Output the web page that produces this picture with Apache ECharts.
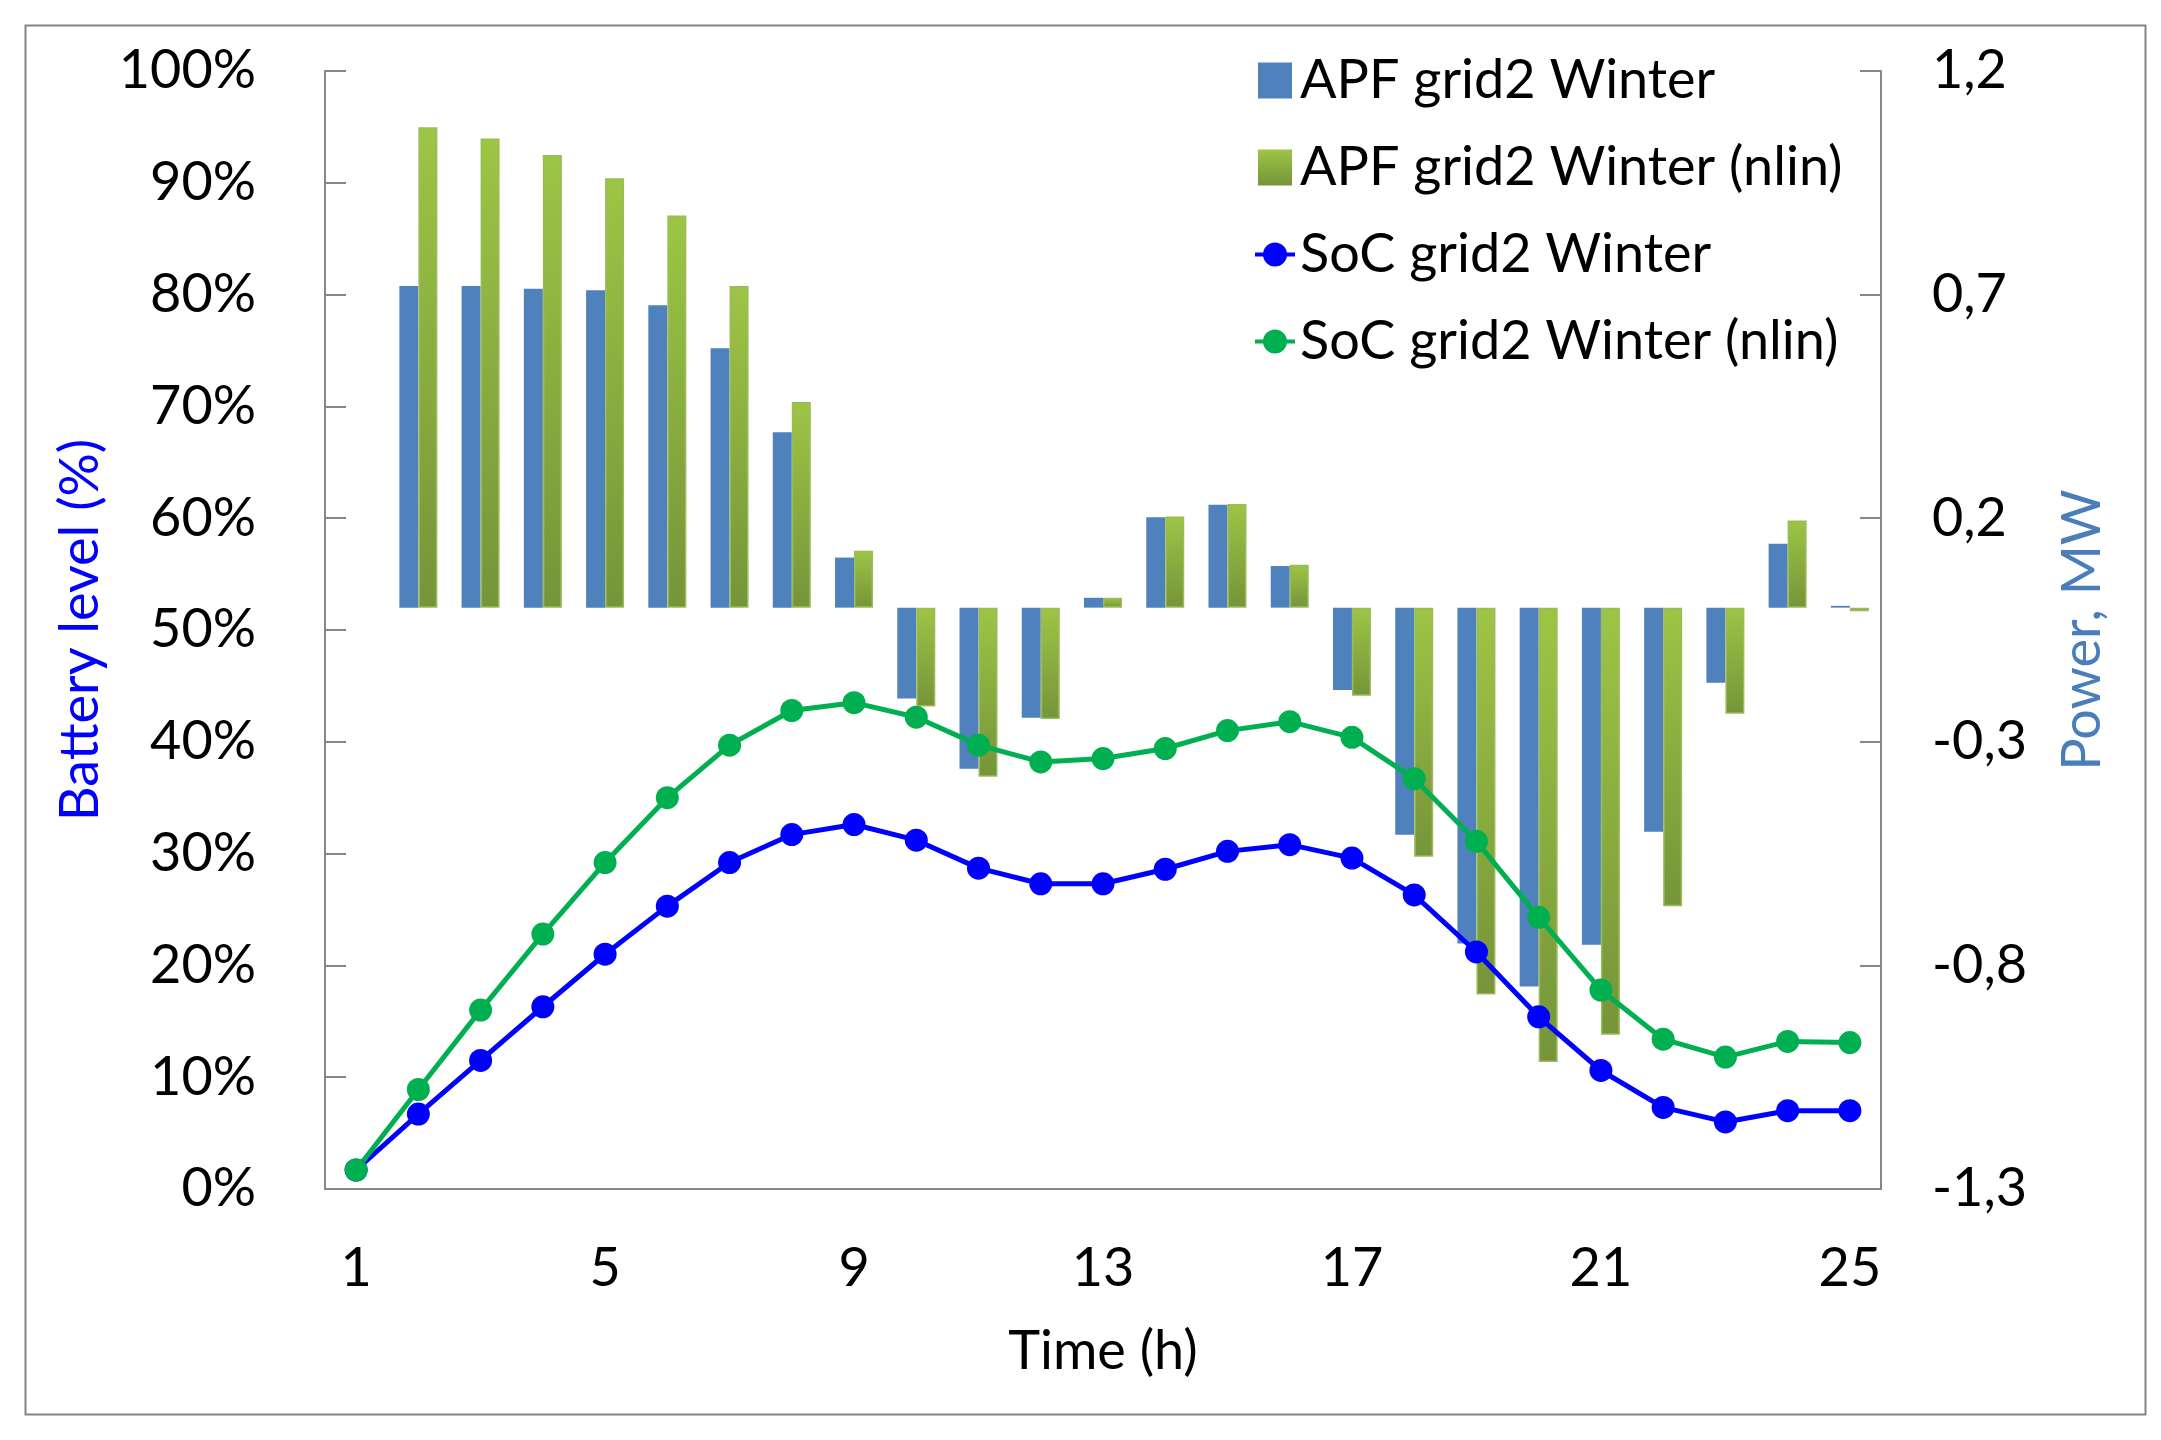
<!DOCTYPE html>
<html>
<head>
<meta charset="utf-8">
<script src="https://cdn.jsdelivr.net/npm/echarts@6/dist/echarts.min.js"></script>
<style>
html,body{margin:0;padding:0;background:#fff;}
#chart{width:2161px;height:1440px;}
</style>
</head>
<body>
<div id="chart"></div>
<script>
const hours = ['1','2','3','4','5','6','7','8','9','10','11','12','13','14','15','16','17','18','19','20','21','22','23','24','25'];
const apfWinter = ['-',0.719,0.719,0.713,0.710,0.676,0.580,0.392,0.112,-0.203,-0.360,-0.246,0.022,0.202,0.230,0.093,-0.184,-0.508,-0.751,-0.847,-0.754,-0.501,-0.168,0.143,0.004];
const apfWinterNlin = ['-',1.074,1.049,1.012,0.960,0.877,0.719,0.460,0.127,-0.221,-0.378,-0.249,0.022,0.204,0.232,0.096,-0.197,-0.557,-0.865,-1.016,-0.955,-0.668,-0.237,0.195,-0.008];
const socWinter = [1.7,6.7,11.5,16.3,21.0,25.3,29.2,31.7,32.6,31.2,28.7,27.3,27.3,28.6,30.2,30.8,29.6,26.3,21.2,15.4,10.6,7.3,6.0,7.0,7.0];
const socWinterNlin = [1.7,8.9,16.0,22.8,29.2,35.0,39.7,42.8,43.5,42.2,39.7,38.2,38.5,39.4,41.0,41.8,40.4,36.7,31.1,24.3,17.8,13.4,11.8,13.2,13.1];
const powerTicks = [-1.3,-0.8,-0.3,0.2,0.7,1.2];

const FONT = 'Lato';
const FS = 54;
const axisGray = '#868686';

const chart = echarts.init(document.getElementById('chart'), null, {renderer:'canvas'});
const greenGrad = new echarts.graphic.LinearGradient(0,0,0,1,[
  {offset:0,color:'#9DC545'},{offset:1,color:'#76943A'}
]);
// legend icons in a 40x36 box (tiny corner anchors fix the box size)
const anchors = ' M0,0 L0.01,0 L0,0.01 Z M40,36 L39.99,36 L40,35.99 Z';
const lineMarkerIcon = 'path://M0,16 L40,16 L40,20 L0,20 Z M8,18 A12,12 0 1,1 32,18 A12,12 0 1,1 8,18 Z' + anchors;
const squareIcon = 'path://M3,0 L37,0 L37,36 L3,36 Z' + anchors;

chart.setOption({
  backgroundColor:'#ffffff',
  animation:false,
  textStyle:{fontFamily:FONT},
  graphic:[{
    type:'rect', left:23, top:23,
    shape:{x:0,y:0,width:2120,height:1389},
    style:{fill:'none',stroke:axisGray,lineWidth:2}
  }],
  grid:{left:325,right:280,top:71,bottom:251,containLabel:false},
  legend:{
    orient:'vertical', left:1250, top:47,
    itemWidth:40, itemHeight:36, itemGap:30,
    textStyle:{fontFamily:FONT,fontSize:FS,color:'#000',lineHeight:57},
    data:[
      {name:'APF grid2 Winter', icon:squareIcon},
      {name:'APF grid2 Winter (nlin)', icon:squareIcon, itemStyle:{borderWidth:0}},
      {name:'SoC grid2 Winter', icon:lineMarkerIcon},
      {name:'SoC grid2 Winter (nlin)', icon:lineMarkerIcon}
    ]
  },
  xAxis:{
    type:'category', data:hours, boundaryGap:true,
    name:'Time (h)', nameLocation:'middle', nameGap:136,
    nameTextStyle:{fontFamily:FONT,fontSize:FS,color:'#000'},
    axisLine:{lineStyle:{color:axisGray,width:2}},
    axisTick:{inside:true,length:21,interval:3,lineStyle:{color:axisGray,width:2}},
    axisLabel:{interval:3,margin:53,fontFamily:FONT,fontSize:FS,color:'#000'},
    splitLine:{show:false}
  },
  yAxis:[{
    type:'value', min:0, max:100, interval:10, position:'left',
    name:'Battery level (%)', nameLocation:'middle', nameRotate:90, nameGap:201,
    nameTextStyle:{fontFamily:FONT,fontSize:FS,color:'#0000FF'},
    axisLine:{show:true,lineStyle:{color:axisGray,width:2}},
    axisTick:{show:true,inside:true,length:21,lineStyle:{color:axisGray,width:2}},
    axisLabel:{formatter:'{value}%',margin:69,fontFamily:FONT,fontSize:FS,color:'#000'},
    splitLine:{show:false}
  },{
    type:'value', min:-1.3, max:1.2, position:'right',
    name:'Power, MW', nameLocation:'middle', nameRotate:90, nameGap:175,
    nameTextStyle:{fontFamily:FONT,fontSize:FS,color:'#4A7EBB'},
    axisLine:{show:true,lineStyle:{color:axisGray,width:2}},
    axisTick:{show:true,inside:true,length:21,customValues:powerTicks,lineStyle:{color:axisGray,width:2}},
    axisLabel:{customValues:powerTicks,margin:51,fontFamily:FONT,fontSize:FS,color:'#000',
      formatter:function(v){return String(Math.round(v*10)/10).replace('.',',');}},
    splitLine:{show:false}
  }],
  series:[{
    name:'APF grid2 Winter', type:'bar', yAxisIndex:1, data:apfWinter,
    barWidth:19, barGap:'0%',
    itemStyle:{color:'#4F81BD'}
  },{
    name:'APF grid2 Winter (nlin)', type:'bar', yAxisIndex:1, data:apfWinterNlin,
    barWidth:19, barGap:'0%',
    itemStyle:{color:greenGrad,borderColor:'#9BBB59',borderWidth:1.5}
  },{
    name:'SoC grid2 Winter', type:'line', yAxisIndex:0, data:socWinter,
    symbol:'circle', symbolSize:23, z:5,
    lineStyle:{color:'#0000FF',width:5}, itemStyle:{color:'#0000FF'}
  },{
    name:'SoC grid2 Winter (nlin)', type:'line', yAxisIndex:0, data:socWinterNlin,
    symbol:'circle', symbolSize:23, z:5,
    lineStyle:{color:'#00B050',width:5}, itemStyle:{color:'#00B050'}
  }]
});
</script>
</body>
</html>
